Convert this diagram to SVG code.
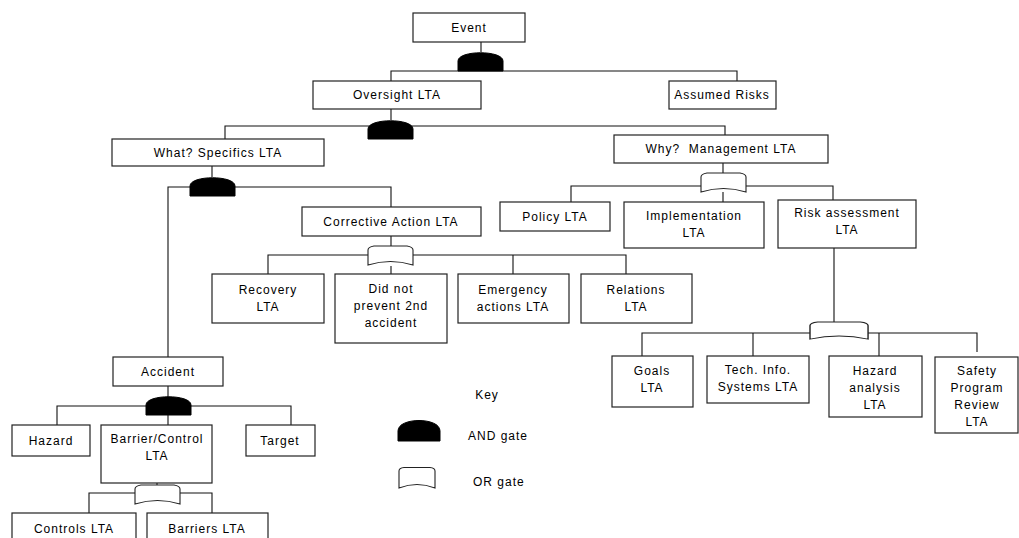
<svg xmlns="http://www.w3.org/2000/svg" width="1019" height="538" viewBox="0 0 1019 538">
<style>
.box{fill:#fff;stroke:#222;stroke-width:1.2}
.ln{fill:none;stroke:#111;stroke-width:1.1}
.and{fill:#000;stroke:#000;stroke-width:1}
.or{fill:#fff;stroke:#222;stroke-width:1.1}
text{font-family:"Liberation Sans",Arial,sans-serif;font-size:12px;letter-spacing:1px;fill:#000;text-anchor:middle}
.l{text-anchor:start}
</style>
<defs>
<path id="andg" d="M0,19 V9 C0,-2 45,-2 45,9 V19 Z"/>
<path id="org" d="M0,19 V4 Q0,1 6,0 H39 Q45,1 45,4 V19 Q22.5,12 0,19 Z"/>
</defs>
<rect width="1019" height="538" fill="#fff"/>
<g id="connectors">
<path class="ln" d="M481,42 V52 M391,81 V71 H737 V81"/>
<path class="ln" d="M391,109 V120 M225,139 V126 H725 V135"/>
<path class="ln" d="M212,166 V177 M168,357 V187 H391 V207"/>
<path class="ln" d="M391,236 V246 M391,266 V274 M268,274 V255 H626 V274 M513,255 V274"/>
<path class="ln" d="M723,163 V173 M723,192 V202 M571,202 V186 H833 V200"/>
<path class="ln" d="M834,248 V322 M642,356 V333 H977 V352 M753,333 V356 M879,333 V356"/>
<path class="ln" d="M168,386 V397 M168,415 V425 M57,425 V406 H291 V425"/>
<path class="ln" d="M157,483 V485 M89,513 V493 H212 V513"/>
</g>
<g id="gates">
<use href="#andg" class="and" x="458" y="52"/>
<use href="#andg" class="and" x="368" y="120"/>
<use href="#andg" class="and" x="190" y="177"/>
<use href="#andg" class="and" x="146" y="396"/>
<use href="#org" class="or" x="368" y="246"/>
<use href="#org" class="or" x="701" y="173"/>
<use href="#org" class="or" transform="translate(810,322) scale(1.29,0.9)"/>
<use href="#org" class="or" x="135" y="485"/>
</g>
<g id="event"><rect class="box" x="413" y="13" width="112" height="29"/><text x="469" y="32">Event</text></g>
<g id="oversight"><rect class="box" x="313" y="81" width="168" height="28"/><text x="397" y="99">Oversight LTA</text></g>
<g id="assumed"><rect class="box" x="669" y="81" width="107" height="28"/><text x="722" y="99">Assumed Risks</text></g>
<g id="what"><rect class="box" x="112" y="139" width="212" height="27"/><text x="218" y="157">What? Specifics LTA</text></g>
<g id="why"><rect class="box" x="614" y="135" width="214" height="28"/><text x="721" y="153" xml:space="preserve">Why?  Management LTA</text></g>
<g id="corrective"><rect class="box" x="302" y="207" width="179" height="29"/><text x="391" y="226">Corrective Action LTA</text></g>
<g id="recovery"><rect class="box" x="212" y="274" width="112" height="49"/><text x="268" y="294">Recovery</text><text x="268" y="311">LTA</text></g>
<g id="didnot"><rect class="box" x="335" y="274" width="112" height="69"/><text x="391" y="293">Did not</text><text x="391" y="310">prevent 2nd</text><text x="391" y="327">accident</text></g>
<g id="emergency"><rect class="box" x="458" y="274" width="111" height="49"/><text x="513" y="294">Emergency</text><text x="513" y="311">actions LTA</text></g>
<g id="relations"><rect class="box" x="581" y="274" width="111" height="49"/><text x="636" y="294">Relations</text><text x="636" y="311">LTA</text></g>
<g id="policy"><rect class="box" x="500" y="202" width="110" height="29"/><text x="555" y="221">Policy LTA</text></g>
<g id="implementation"><rect class="box" x="624" y="202" width="140" height="46"/><text x="694" y="220">Implementation</text><text x="694" y="237">LTA</text></g>
<g id="risk"><rect class="box" x="778" y="200" width="138" height="48"/><text x="847" y="217">Risk assessment</text><text x="847" y="234">LTA</text></g>
<g id="goals"><rect class="box" x="612" y="356" width="81" height="51"/><text x="652" y="375">Goals</text><text x="652" y="392">LTA</text></g>
<g id="tech"><rect class="box" x="707" y="356" width="102" height="47"/><text x="758" y="374">Tech. Info.</text><text x="758" y="391">Systems LTA</text></g>
<g id="hazardanalysis"><rect class="box" x="829" y="356" width="93" height="61"/><text x="875" y="375">Hazard</text><text x="875" y="392">analysis</text><text x="875" y="409">LTA</text></g>
<g id="safety"><rect class="box" x="935" y="357" width="83" height="76"/><text x="977" y="375">Safety</text><text x="977" y="392">Program</text><text x="977" y="409">Review</text><text x="977" y="426">LTA</text></g>
<g id="accident"><rect class="box" x="113" y="357" width="110" height="29"/><text x="168" y="376">Accident</text></g>
<g id="hazard"><rect class="box" x="12" y="425" width="78" height="31"/><text x="51" y="445">Hazard</text></g>
<g id="barrier"><rect class="box" x="101" y="425" width="111" height="58"/><text x="157" y="443">Barrier/Control</text><text x="157" y="460">LTA</text></g>
<g id="target"><rect class="box" x="246" y="425" width="69" height="31"/><text x="280" y="445">Target</text></g>
<g id="controls"><rect class="box" x="12" y="513" width="124" height="35"/><text x="74" y="533">Controls LTA</text></g>
<g id="barriers"><rect class="box" x="147" y="513" width="121" height="35"/><text x="207" y="533">Barriers LTA</text></g>
<g id="key">
<text x="487" y="399">Key</text>
<path class="and" d="M398,441 V431 C398,417 440,417 440,431 V441 Z"/>
<text class="l" x="468" y="440">AND gate</text>
<path class="or" d="M399,488 V471 Q399,468 404,467.5 H430 Q435,468 435,471 V488 Q417,481 399,488 Z"/>
<text class="l" x="473" y="486">OR gate</text>
</g>
</svg>
